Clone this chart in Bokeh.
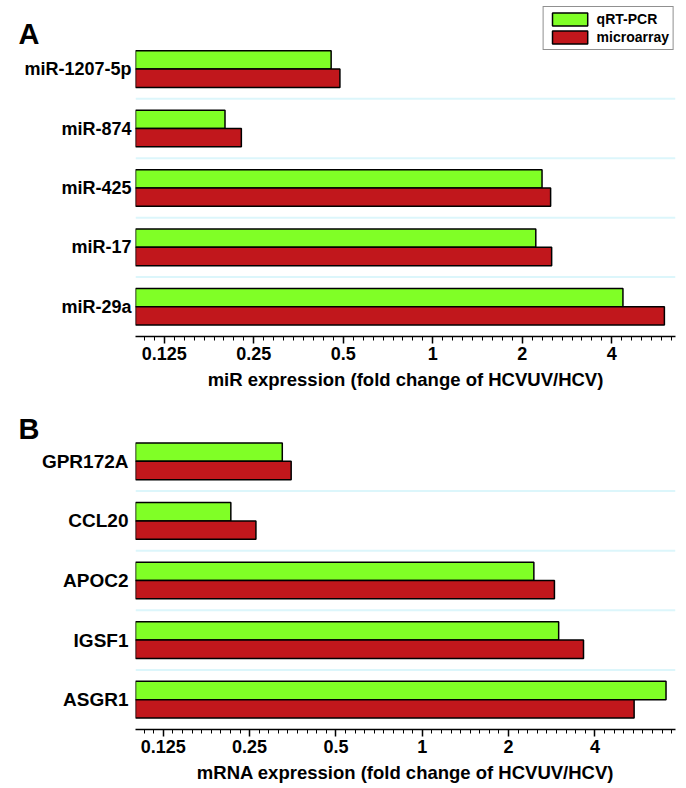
from bokeh.plotting import figure
from bokeh.models import Range1d, FixedTicker, Span, Label, Legend, LegendItem, ColumnDataSource
from bokeh.layouts import column
from bokeh.embed import file_html
from bokeh.resources import INLINE

# ---- data (fold change of HCVUV/HCV) ----
mir_categories = ["miR-1207-5p", "miR-874", "miR-425", "miR-17", "miR-29a"]
mir_qrtpcr = [0.455, 0.200, 2.33, 2.22, 4.36]
mir_microarray = [0.487, 0.227, 2.49, 2.51, 6.01]

mrna_categories = ["GPR172A", "CCL20", "APOC2", "IGSF1", "ASGR1"]
mrna_qrtpcr = [0.325, 0.215, 2.45, 2.99, 7.08]
mrna_microarray = [0.349, 0.263, 2.89, 3.65, 5.48]

tick_values = [0.125, 0.25, 0.5, 1, 2, 4]
tick_labels = ["0.125", "0.25", "0.5", "1", "2", "4"]
series_names = ["qRT-PCR", "microarray"]

X_MIN = 0.1
FONT = "Liberation Sans"
GREEN = "#80ff26"
RED = "#c1171c"
SEP = "#dcf6fb"
BAR_H = 0.308
LETTER_SIZE = "29px"

minor_ticks = []
for k in range(-4, 3):
    for j in range(1, 9):
        minor_ticks.append(2 ** (k + j / 9))

x_overrides = {}
for v, t in zip(tick_values, tick_labels):
    x_overrides[float(v)] = t
    x_overrides[str(v)] = t


def make_panel(cats, qpcr, micro, x_max, y_top, xlabel, letter, letter_y, height, top, bottom,
               cat_font, cat_standoff, legend):
    n = len(cats)
    ypos = [n - i - 0.5 for i in range(n)]
    src = ColumnDataSource(dict(
        y=ypos, q=qpcr, m=micro,
        yq=[y + BAR_H / 2 for y in ypos], ym=[y - BAR_H / 2 for y in ypos]))
    p = figure(width=686, height=height, x_axis_type="log",
               x_range=Range1d(X_MIN, x_max), y_range=Range1d(0, y_top),
               output_backend="svg", toolbar_location=None,
               min_border_top=top, min_border_bottom=bottom,
               min_border_left=134, min_border_right=11)
    p.outline_line_color = None
    p.xgrid.visible = False
    p.ygrid.visible = False

    for loc in range(1, n):
        p.add_layout(Span(location=loc, dimension="width", line_color=SEP, line_width=2))

    r1 = p.hbar(y="yq", left=X_MIN, right="q", height=BAR_H, source=src,
                fill_color=GREEN, line_color="black", line_width=1.5)
    r2 = p.hbar(y="ym", left=X_MIN, right="m", height=BAR_H, source=src,
                fill_color=RED, line_color="black", line_width=1.5)

    ax = p.xaxis[0]
    ax.ticker = FixedTicker(ticks=tick_values, minor_ticks=minor_ticks)
    ax.major_label_overrides = x_overrides
    ax.axis_label = xlabel
    ax.axis_label_text_font = FONT
    ax.axis_label_text_font_size = "18.5px"
    ax.axis_label_text_font_style = "bold"
    ax.axis_label_text_color = "black"
    ax.axis_label_standoff = 6
    ax.major_label_text_font = FONT
    ax.major_label_text_font_size = "18px"
    ax.major_label_text_font_style = "bold"
    ax.major_label_text_color = "black"
    ax.major_label_standoff = 3
    ax.axis_line_width = 1.5
    ax.major_tick_line_width = 1.5
    ax.minor_tick_line_width = 1
    ax.major_tick_in = 0
    ax.major_tick_out = 7
    ax.minor_tick_in = 0
    ax.minor_tick_out = 4

    y_overrides = {}
    for v, t in zip(ypos, cats):
        y_overrides[float(v)] = t
        y_overrides[str(v)] = t
    ay = p.yaxis[0]
    ay.ticker = FixedTicker(ticks=ypos, minor_ticks=[])
    ay.major_label_overrides = y_overrides
    ay.axis_line_color = None
    ay.major_tick_line_color = None
    ay.minor_tick_line_color = None
    ay.major_tick_out = 0
    ay.major_tick_in = 0
    ay.major_label_text_font = FONT
    ay.major_label_text_font_size = cat_font
    ay.major_label_text_font_style = "bold"
    ay.major_label_text_color = "black"
    ay.major_label_standoff = cat_standoff

    # panel letter, kept in a side panel so that it is not clipped to the frame
    p.add_layout(Label(text=letter, x=18, y=letter_y, x_units="canvas", y_units="canvas",
                       text_font=FONT, text_font_size=LETTER_SIZE, text_color="black",
                       text_font_style="bold", text_baseline="middle"), "left")

    if legend:
        lg = Legend(items=[LegendItem(label=series_names[0], renderers=[r1]),
                           LegendItem(label=series_names[1], renderers=[r2])],
                    location="top_right", border_line_color="#222222", border_line_width=1,
                    padding=4, spacing=2, margin=1, glyph_width=44, glyph_height=16,
                    label_height=16, label_standoff=5, label_text_font=FONT,
                    label_text_color="black",
                    label_text_font_size="14px", label_text_font_style="bold")
        p.add_layout(lg)
    return p


p1 = make_panel(mir_categories, mir_qrtpcr, mir_microarray, 6.55, 5.57,
                "miR expression (fold change of HCVUV/HCV)", "A", 33.5,
                392, 5, 55, "18px", 4, True)
p2 = make_panel(mrna_categories, mrna_qrtpcr, mrna_microarray, 7.64, 5.0,
                "mRNA expression (fold change of HCVUV/HCV)", "B", 36,
                396, 39, 59, "19px", 7, False)

layout = column(p1, p2, spacing=0)
open("out.html", "w").write(file_html(layout, INLINE))
